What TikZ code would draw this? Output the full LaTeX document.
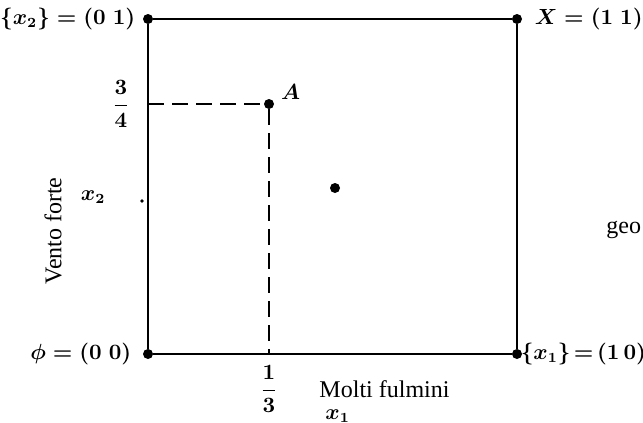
\documentclass[tikz,border=0pt]{standalone}
\usepackage{amsmath,amssymb}
\usepackage{fontspec}
\newfontfamily\tnr{Liberation Serif}
\usetikzlibrary{positioning}
\tikzset{
  vtx/.style={circle,fill,inner sep=0pt,minimum size=5pt},
  tinyv/.style={circle,fill,inner sep=0pt,minimum size=1.8pt},
  lbl/.style={font=\fontsize{10.5}{12}\selectfont\boldmath,inner sep=1pt},
  axl/.style={font=\tnr\fontsize{12}{14}\selectfont,inner sep=1pt},
  side/.style={line width=1.1pt},
  guide/.style={line width=0.9pt,dash pattern=on 8pt off 4pt}
}

\begin{document}
\begin{tikzpicture}[x=0.5pt,y=-0.5pt]
\useasboundingbox (0,0) rectangle (643,423);
\node[vtx] (n00) at (148,354) {};
\node[vtx] (n10) at (517,354) {};
\node[vtx] (n01) at (148,19) {};
\node[vtx] (n11) at (517,19) {};
\node[vtx] (a) at (269,104) {};
\node[vtx] (m) at (335,188) {};
\node[tinyv] (s) at (142,201) {};
\coordinate (ay) at (a -| n00);
\coordinate (ax) at (a |- n00);
\draw[side] (n00)--(n10)--(n11)--(n01)--(n00);
\draw[guide] (ay)--(a)--(ax);
\node[lbl,left=2.5pt of n01] (l01) {$\{x_2\}=(0\ 1)$};
\node[lbl,right=5pt of n11] (l11) {$X=(1\ 1)$};
\node[lbl,left=4.5pt of n00] (l00) {$\phi=(0\ 0)$};
\node[lbl,right=-1pt of n10,inner sep=0pt] (l10) {$\thickmuskip=2.5mu\{x_1\}=(1\,0)$};
\node[lbl,above right=-1pt and 3pt of a] (la) {$A$};
\node[lbl,left=8pt of ay] (f34) {$\dfrac{3}{4}$};
\node[lbl,below=4.5pt of ax] (f13) {$\dfrac{1}{3}$};
\node[axl,right=18.5pt of f13] (mf) {Molti fulmini};
\node[lbl,below right=3.5pt and 3pt of mf.south west] (x1) {$x_1$};
\node[lbl,left=16pt of s,yshift=2pt] (x2) {$x_2$};
\node[axl,rotate=90] (vf) at (53,231) {Vento forte};
\node[axl,anchor=west] (geo) at (604,230) {geo};
\end{tikzpicture}
\end{document}
